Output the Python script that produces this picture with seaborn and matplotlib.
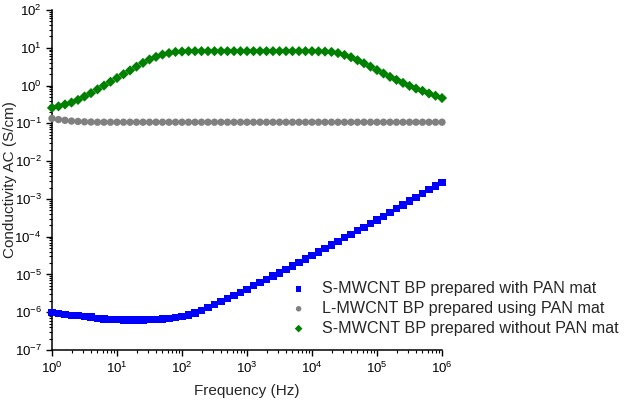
import numpy as np
import pandas as pd
import matplotlib
matplotlib.use("Agg")
import matplotlib.pyplot as plt
import matplotlib.ticker as mticker
import seaborn as sns

# Frequency grid (Hz): 10 points per decade from 1 Hz to 1 MHz
freq_hz = np.logspace(0, 6, 61)

# log10 of AC conductivity (S/cm)
log_sigma_s_with_pan = [
    -6.00, -6.04, -6.06, -6.08, -6.09, -6.11, -6.13, -6.16, -6.18, -6.19,
    -6.20, -6.21, -6.21, -6.21, -6.21, -6.20, -6.19, -6.18, -6.16, -6.14,
    -6.11, -6.07, -6.02, -5.95, -5.87, -5.79, -5.71, -5.63, -5.55, -5.47,
    -5.39, -5.30, -5.22, -5.13, -5.04, -4.96, -4.87, -4.78, -4.68, -4.59,
    -4.50, -4.41, -4.31, -4.22, -4.12, -4.03, -3.94, -3.84, -3.75, -3.65,
    -3.56, -3.46, -3.36, -3.26, -3.16, -3.06, -2.96, -2.86, -2.76, -2.66,
    -2.56,
]
log_sigma_l_using_pan = [
    -0.87, -0.90, -0.92, -0.94, -0.95, -0.96, -0.965, -0.97, -0.97, -0.97,
    -0.97, -0.97, -0.97, -0.97, -0.97, -0.97, -0.97, -0.97, -0.97, -0.97,
    -0.97, -0.97, -0.97, -0.97, -0.97, -0.97, -0.97, -0.97, -0.97, -0.97,
    -0.97, -0.97, -0.97, -0.97, -0.97, -0.97, -0.97, -0.97, -0.97, -0.97,
    -0.97, -0.97, -0.97, -0.97, -0.97, -0.97, -0.97, -0.97, -0.97, -0.97,
    -0.97, -0.97, -0.97, -0.97, -0.97, -0.97, -0.97, -0.97, -0.97, -0.97,
    -0.97,
]
log_sigma_s_without_pan = [
    -0.59, -0.55, -0.50, -0.45, -0.38, -0.29, -0.20, -0.10, 0.00, 0.10,
    0.20, 0.30, 0.40, 0.50, 0.60, 0.69, 0.76, 0.82, 0.86, 0.89,
    0.90, 0.91, 0.91, 0.91, 0.91, 0.91, 0.91, 0.91, 0.91, 0.91,
    0.91, 0.91, 0.91, 0.91, 0.91, 0.91, 0.91, 0.91, 0.91, 0.91,
    0.91, 0.905, 0.90, 0.89, 0.86, 0.81, 0.75, 0.67, 0.59, 0.50,
    0.41, 0.32, 0.23, 0.15, 0.07, -0.01, -0.08, -0.14, -0.21, -0.27,
    -0.33,
]

labels = [
    "S-MWCNT BP prepared with PAN mat",
    "L-MWCNT BP prepared using PAN mat",
    "S-MWCNT BP prepared without PAN mat",
]
x_tick_exponents = [0, 1, 2, 3, 4, 5, 6]
y_tick_exponents = [-7, -6, -5, -4, -3, -2, -1, 0, 1, 2]

colors = ["#0000FF", "#808080", "#008000"]
markers = ["s", "o", "D"]
sizes = [28, 28, 27]

sns.set_style("ticks")
plt.rcParams["font.family"] = ["Liberation Sans", "DejaVu Sans"]
plt.rcParams["mathtext.fontset"] = "custom"
plt.rcParams["mathtext.rm"] = "Liberation Sans"
plt.rcParams["mathtext.it"] = "Liberation Sans:italic"

fig = plt.figure(figsize=(6.27, 4.0), dpi=100)
ax = fig.add_axes([52 / 627, 50 / 400, (442 - 52) / 627, (390 - 50) / 400])

series = [log_sigma_s_with_pan, log_sigma_l_using_pan, log_sigma_s_without_pan]
for vals, lab, col, mk, sz in zip(series, labels, colors, markers, sizes):
    df = pd.DataFrame({"freq": freq_hz, "sigma": 10.0 ** np.array(vals)})
    sns.scatterplot(data=df, x="freq", y="sigma", ax=ax, marker=mk, s=sz,
                    color=col, edgecolor="none", linewidth=0, label=lab,
                    zorder=3, clip_on=False)

ax.set_xscale("log")
ax.set_yscale("log")
ax.set_xlim(1, 1e6)
ax.set_ylim(1e-7, 1e2)

ax.set_xticks([10.0 ** e for e in x_tick_exponents],
              [f"$\\mathdefault{{10^{{{e}}}}}$" for e in x_tick_exponents])
ax.set_yticks([10.0 ** e for e in y_tick_exponents],
              [f"$\\mathdefault{{10^{{{e}}}}}$" for e in y_tick_exponents])
ax.xaxis.set_minor_locator(mticker.LogLocator(base=10, subs=np.arange(2, 10), numticks=100))
ax.yaxis.set_minor_locator(mticker.LogLocator(base=10, subs=np.arange(2, 10), numticks=100))
ax.xaxis.set_minor_formatter(mticker.NullFormatter())
ax.yaxis.set_minor_formatter(mticker.NullFormatter())
ax.set_xlim(1, 1e6)
ax.set_ylim(1e-7, 1e2)

sns.despine(ax=ax)
for sp in ["left", "bottom"]:
    ax.spines[sp].set_linewidth(1.1)
    ax.spines[sp].set_color("black")

ax.tick_params(axis="both", which="major", direction="out", length=4.5, width=1.0,
               labelsize=9.5, colors="black", pad=3)
ax.tick_params(axis="both", which="minor", direction="out", length=2.5, width=0.8,
               colors="black")

ax.set_xlabel("Frequency (Hz)", fontsize=11, labelpad=6)
ax.set_ylabel("Conductivity AC (S/cm)", fontsize=11)
ax.yaxis.set_label_coords((17 - 52) / 390, 0.5)

ax.legend(loc="center left", bbox_to_anchor=(282.5 / 627, 1 - 308.5 / 400),
          bbox_transform=fig.transFigure, frameon=False, fontsize=11.6,
          borderpad=0, handlelength=1.0, handletextpad=0.95, labelspacing=0.3,
          markerscale=0.75)

fig.savefig("out.png", dpi=100)
